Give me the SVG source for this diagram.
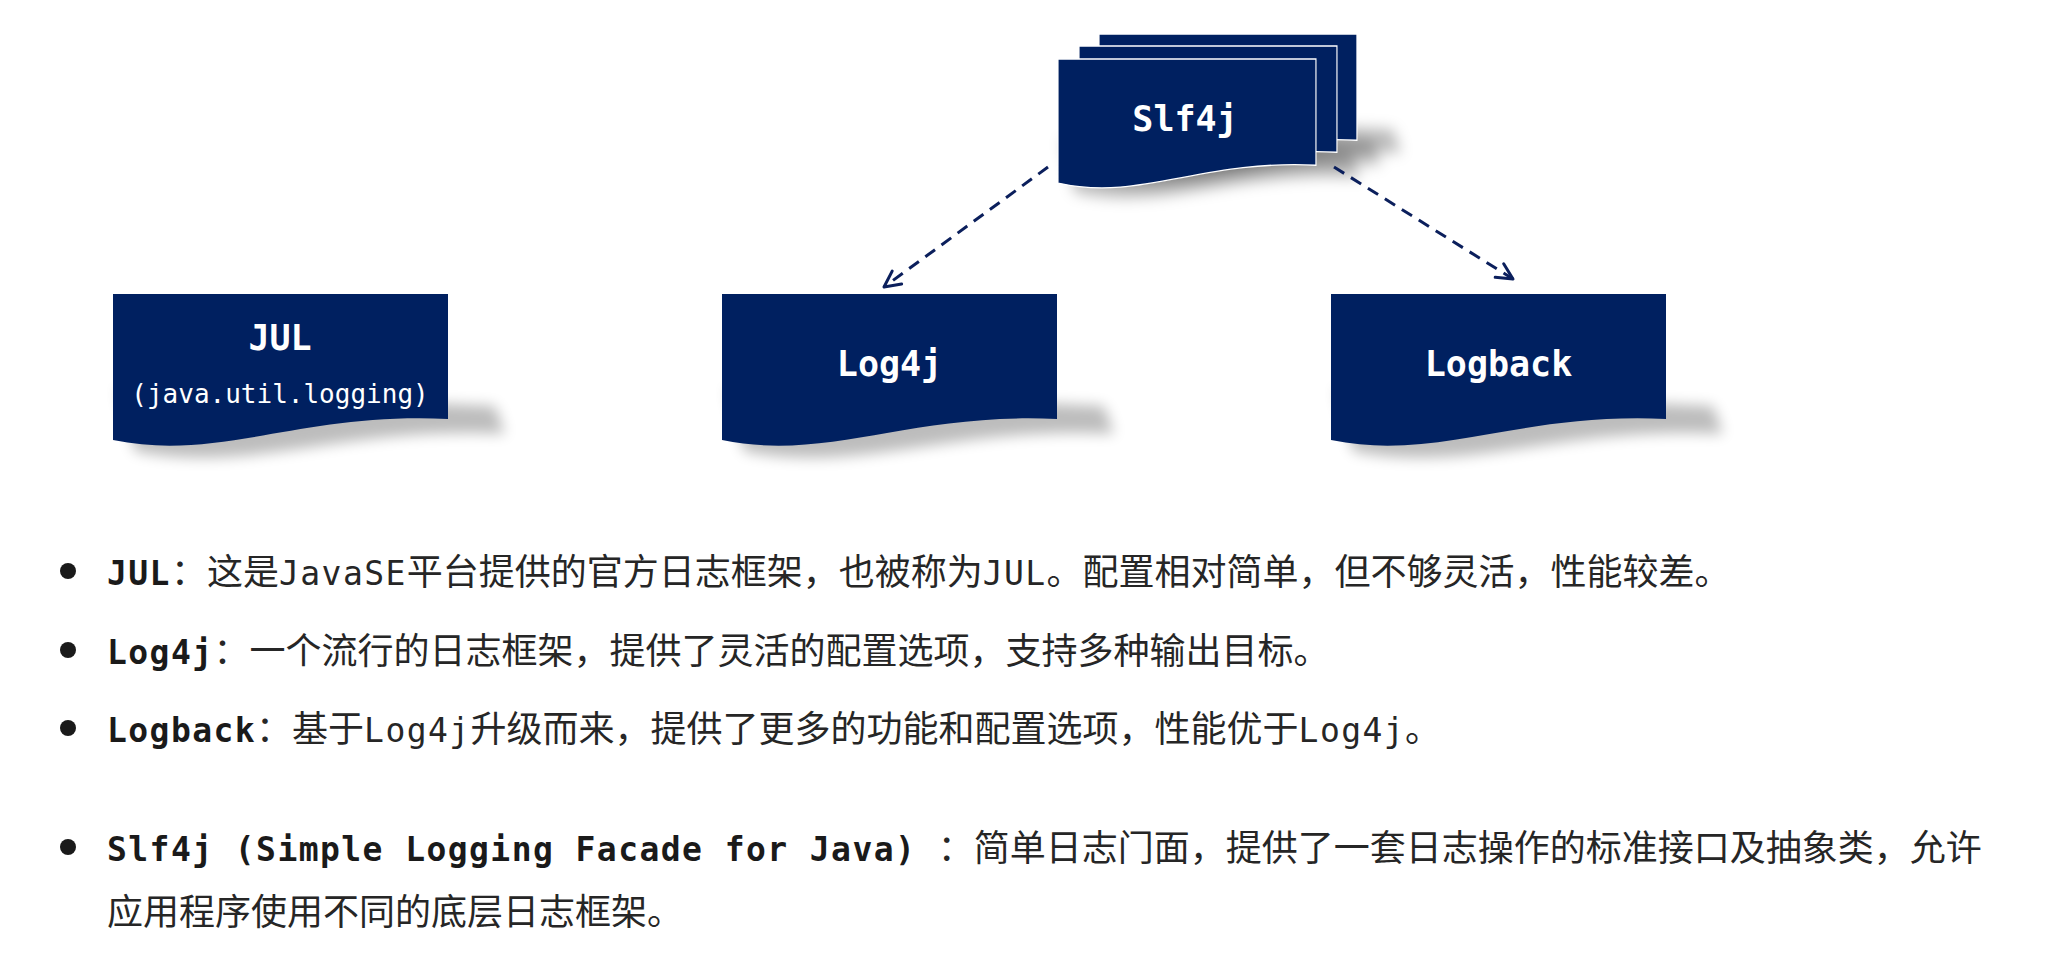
<svg xmlns="http://www.w3.org/2000/svg" xmlns:xlink="http://www.w3.org/1999/xlink" width="2050" height="978" viewBox="0 0 2050 978">
<style>
.doc{fill:#002060}
.page{fill:#002060;stroke:#ffffff;stroke-width:1.5}
.shadow{fill:#000;opacity:0.26}
.title{font-family:"DejaVu Sans Mono","Liberation Mono",monospace;font-weight:bold;font-size:35px;fill:#fff;text-anchor:middle}
.sub{font-family:"DejaVu Sans Mono","Liberation Mono",monospace;font-size:26px;fill:#fff;text-anchor:middle}
.conn{fill:none;stroke:#0b1f5c;stroke-width:3;stroke-dasharray:12 8}
.line{font-family:"Noto Sans CJK SC","Noto Sans",sans-serif;font-size:36px;fill:#262626}
.m{font-family:"DejaVu Sans Mono","Liberation Mono",monospace;font-size:33px;letter-spacing:1.43px}
.b{font-weight:bold;fill:#1a1a1a}
.bullet{fill:#1a1a1a}
</style>
<defs>
<path id="docShape" d="M0,0 H335 V125 C187,118 107,168 0,146 Z"/>
<path id="docShadow" d="M5,95 L382,112 L392,140 C225,132 140,181 22,157 Z"/>
<filter id="blur" x="-30%" y="-60%" width="160%" height="220%"><feGaussianBlur stdDeviation="7"/></filter>
<marker id="arrow" markerUnits="userSpaceOnUse" viewBox="0 0 20 20" refX="18" refY="10" markerWidth="20" markerHeight="20" orient="auto">
<path d="M2,2 L18,10 L2,18" fill="none" stroke="#0b1f5c" stroke-width="3" stroke-linecap="round" stroke-linejoin="round"/>
</marker>
</defs>
<rect width="2050" height="978" fill="#ffffff"/>

<g id="node-slf4j">
<g filter="url(#blur)">
<use xlink:href="#docShadow" class="shadow" transform="translate(1099,34) scale(0.77,0.85)"/>
<use xlink:href="#docShadow" class="shadow" transform="translate(1079,46) scale(0.77,0.85)"/>
<use xlink:href="#docShadow" class="shadow" transform="translate(1058,59) scale(0.77,0.85)"/>
</g>
<use xlink:href="#docShape" class="page" vector-effect="non-scaling-stroke" transform="translate(1099,34) scale(0.77,0.85)"/>
<use xlink:href="#docShape" class="page" vector-effect="non-scaling-stroke" transform="translate(1079,46) scale(0.77,0.85)"/>
<use xlink:href="#docShape" class="page" vector-effect="non-scaling-stroke" transform="translate(1058,59) scale(0.77,0.85)"/>
<text class="title" x="1185" y="131">Slf4j</text>
</g>

<g id="node-jul">
<use xlink:href="#docShadow" class="shadow" filter="url(#blur)" transform="translate(113,294)"/>
<use xlink:href="#docShape" class="doc" transform="translate(113,294)"/>
<text class="title" x="280" y="350">JUL</text>
<text class="sub" x="280" y="403">(java.util.logging)</text>
</g>

<g id="node-log4j">
<use xlink:href="#docShadow" class="shadow" filter="url(#blur)" transform="translate(722,294)"/>
<use xlink:href="#docShape" class="doc" transform="translate(722,294)"/>
<text class="title" x="889.5" y="376">Log4j</text>
</g>

<g id="node-logback">
<use xlink:href="#docShadow" class="shadow" filter="url(#blur)" transform="translate(1331,294)"/>
<use xlink:href="#docShape" class="doc" transform="translate(1331,294)"/>
<text class="title" x="1498.5" y="376">Logback</text>
</g>

<g id="connectors">
<path class="conn" d="M1048,167 L884,287" marker-end="url(#arrow)"/>
<path class="conn" d="M1334,167 L1513,279" marker-end="url(#arrow)"/>
</g>

<g id="notes">
<circle class="bullet" cx="68" cy="571" r="8"/>
<text class="line" y="585"><tspan x="107" class="m b">JUL</tspan><tspan x="171">：这是</tspan><tspan x="279" class="m">JavaSE</tspan><tspan x="406.7">平台提供的官方日志框架，也被称为</tspan><tspan x="982.7" class="m">JUL</tspan><tspan x="1046.6">。配置相对简单，但不够灵活，性能较差。</tspan></text>

<circle class="bullet" cx="68" cy="650" r="8"/>
<text class="line" y="664"><tspan x="107" class="m b">Log4j</tspan><tspan x="213.5">：一个流行的日志框架，提供了灵活的配置选项，支持多种输出目标。</tspan></text>

<circle class="bullet" cx="68" cy="728" r="8"/>
<text class="line" y="742"><tspan x="107" class="m b">Logback</tspan><tspan x="256.1">：基于</tspan><tspan x="364.1" class="m">Log4j</tspan><tspan x="470.6">升级而来，提供了更多的功能和配置选项，性能优于</tspan><tspan x="1298.6" class="m">Log4j</tspan><tspan x="1405.1">。</tspan></text>

<circle class="bullet" cx="68" cy="847" r="8"/>
<text class="line" y="861"><tspan x="107" class="m b">Slf4j (Simple Logging Facade for Java)</tspan><tspan x="937.7">：简单日志门面，提供了一套日志操作的标准接口及抽象类，允许</tspan></text>
<text class="line" y="925"><tspan x="107">应用程序使用不同的底层日志框架。</tspan></text>
</g>
</svg>
